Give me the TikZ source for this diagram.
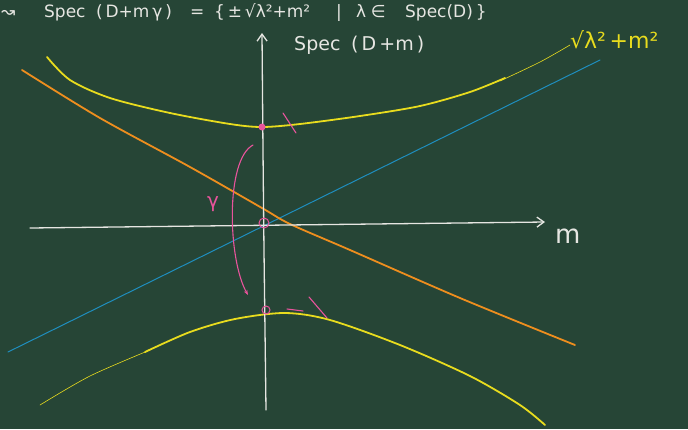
\documentclass[tikz,border=0pt]{standalone}
\usepackage{fontspec}
\setmainfont{DejaVu Sans}
\usetikzlibrary{arrows.meta}
\definecolor{board}{HTML}{264536}
\definecolor{chalk}{HTML}{E6E6E2}
\definecolor{cyel}{HTML}{E8DC1E}
\definecolor{cora}{HTML}{EE8E1E}
\definecolor{cblu}{HTML}{1F8EBE}
\definecolor{cpink}{HTML}{E8549C}
\tikzset{
  axis/.style={chalk, line width=1.3pt, line cap=round, -{Straight Barb[length=7pt,width=10pt]}},
  ycurve/.style={cyel, line width=1.8pt, line cap=round},
  ythin/.style={cyel, line width=0.6pt, line cap=round},
  ocurve/.style={cora, line width=1.8pt, line cap=round},
  bline/.style={cblu, line width=1pt, line cap=round},
  pinkline/.style={cpink, line width=1.1pt, line cap=round},
  chalktext/.style={chalk, inner sep=0pt, anchor=base west},
  ftop/.style={chalktext, font=\fontsize{17}{19}\selectfont},
  fyel/.style={inner sep=0pt, anchor=base west, text=cyel, font=\fontsize{22}{24}\selectfont},
}
\begin{document}
\begin{tikzpicture}[x=1pt,y=-1pt]
\fill[board] (0,0) rectangle (688,429);
\useasboundingbox (0,0) rectangle (688,429);
% top formula, piece by piece
\node[ftop] (f1) at (1,17) {↝};
\node[ftop] (f2) at (44,17) {Spec};
\node[ftop] (f3) at (96,17) {(\,D+m\,γ\,)};
\node[ftop] (f4) at (190,17) {=};
\node[ftop] (f5) at (214,17) {\{\,±\,√λ²+m²};
\node[ftop] (f6) at (336,17) {|};
\node[ftop] (f7) at (356,17) {λ\;∈};
\node[ftop] (f8) at (405,17) {Spec(D)\,\}};
% blue line
\coordinate (b1) at (8,352); \coordinate (b2) at (600,60);
\draw[bline] (b1) -- (b2);
% orange curve
\draw[ocurve] plot[smooth] coordinates {(22,70) (100,118) (190,167) (262,208) (290,224) (350,250) (460,298) (575,345)};
% upper yellow branch
\draw[ycurve] plot[smooth] coordinates {(47,57) (70,80) (110,98) (170,113) (230,124) (262,127) (300,124) (360,116) (420,106) (470,92) (505,78)};
\draw[ythin] plot[smooth] coordinates {(500,81) (540,62) (570,45)};
% lower yellow branch
\draw[ythin] plot[smooth] coordinates {(40,405) (90,376) (150,350)};
\draw[ycurve] plot[smooth] coordinates {(145,352) (190,332) (235,319) (285,313) (330,320) (400,345) (470,376) (520,405) (545,425)};
% axes
\coordinate (vbot) at (266,410); \coordinate (vtop) at (262,33);
\draw[axis] plot[smooth] coordinates {(266,410) (265,330) (264,250) (263,150) (262,33)};
\coordinate (hleft) at (30,228); \coordinate (hright) at (545,222);
\draw[axis] (hleft) -- (hright);
% axis labels
\node[chalktext, font=\fontsize{19}{21}\selectfont] (speclab) at (294,50) {Spec\;\;(\,D\,+m\,)};
\node[chalktext, font=\fontsize{26}{28}\selectfont] (mlab) at (555,243) {m};
\node[fyel] (sqrtlab) at (570,48) {√λ²\,+m²};
% pink marks
\fill[cpink] (262,127) circle (3.5pt);
\node[draw=cpink, circle, line width=1pt, minimum size=10pt, inner sep=0pt] (c0) at (264,223) {};
\node[draw=cpink, circle, line width=1pt, minimum size=8pt, inner sep=0pt] (cm1) at (266,310) {};
\draw[pinkline] (283,113) -- (296,133);
\draw[pinkline] (287,309) -- (303,311);
\draw[pinkline] (309,297) -- (327,318);
\coordinate (gs) at (253,145); \coordinate (ge) at (248,295);
\draw[pinkline, -{Stealth[length=5pt]}] (gs) .. controls (225,160) and (228,260) .. (ge);
\node[text=cpink, inner sep=0pt, font=\fontsize{20}{22}\selectfont] (gamma) at (213,204) {γ};
\end{tikzpicture}
\end{document}
